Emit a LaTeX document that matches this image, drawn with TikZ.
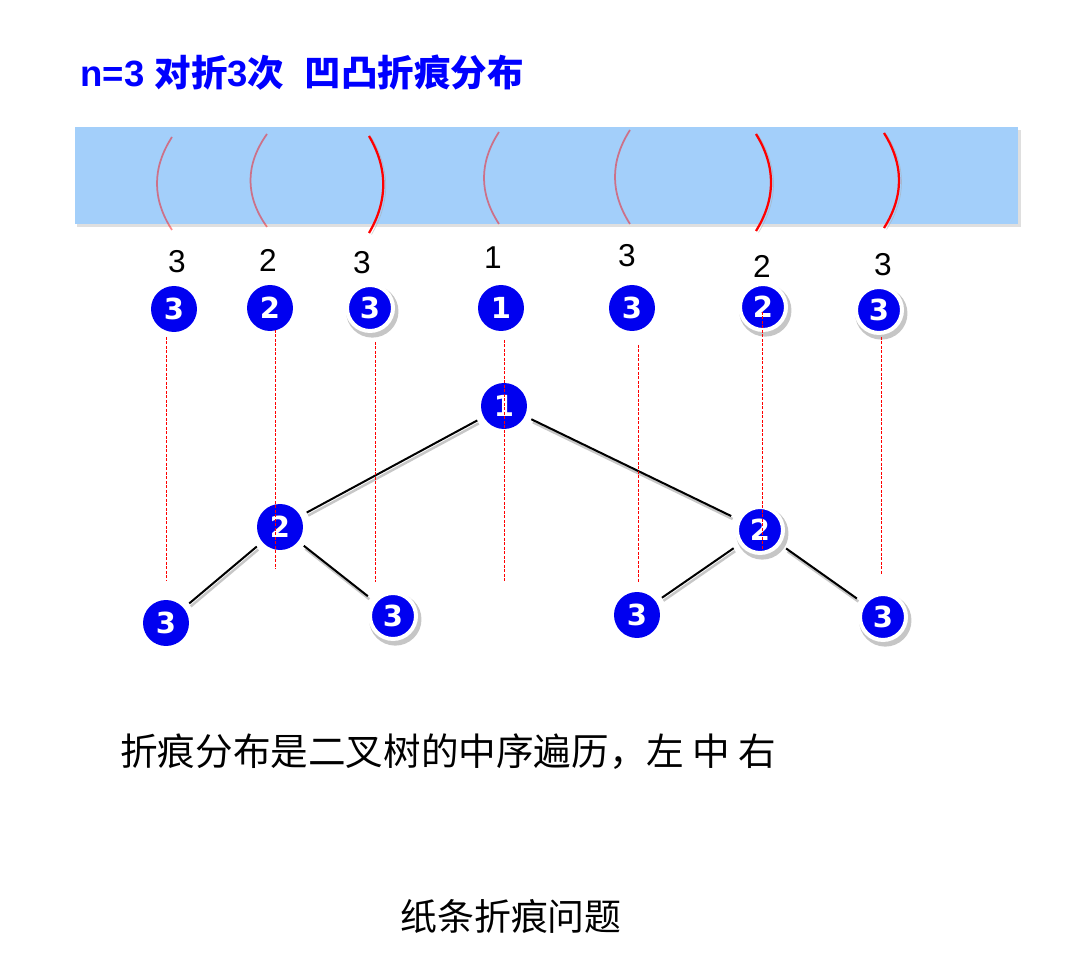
\documentclass[tikz,border=0pt]{standalone}
\usepackage{fontspec}
\setmainfont{Liberation Sans}
\newfontfamily\cjk{Noto Sans CJK SC}
\newfontfamily\dejavu{DejaVu Sans}
\usetikzlibrary{shadows}
\definecolor{titleblue}{RGB}{0,0,255}
\definecolor{nodeblue}{RGB}{0,0,240}
\definecolor{paper}{RGB}{163,207,250}

\tikzset{
  ball/.style={circle,fill=nodeblue,minimum size=0.92cm,inner sep=0pt,text=white,
    font=\dejavu\bfseries\fontsize{16.5}{17}\selectfont},
  ringball/.style={ball,draw=white,line width=0.08cm,
    drop shadow={shadow xshift=0.04cm,shadow yshift=-0.06cm,shadow scale=1.14,opacity=0.45}},
  depth/.style={inner sep=0pt,font=\fontsize{18}{19}\selectfont},
  edge/.style={line width=0.04cm,shorten >=0.14cm,shorten <=0.14cm,
    preaction={draw=black!22,line width=0.05cm,transform canvas={shift={(0.03cm,-0.06cm)}}}},
  guide/.style={red,line width=0.02cm,dash pattern=on 0.06cm off 0.03cm},
  mountain/.style={red,line width=0.045cm,
    preaction={draw=black!35,opacity=0.5,transform canvas={shift={(0.05cm,-0.03cm)}}}},
  valley/.style={red,opacity=0.45,line width=0.035cm}
}

\begin{document}
\begin{tikzpicture}[x=0.02cm,y=-0.02cm]
\useasboundingbox (0,0) rectangle (1080,962);
\node[anchor=west,inner sep=0pt,text=titleblue,font=\bfseries\fontsize{20.8}{22}\selectfont] (title) at (80,73) {n=3 {\cjk 对折}3{\cjk 次}\ \ {\cjk 凹凸折痕分布}};

% paper strip and its creases
\fill[paper,drop shadow={shadow xshift=0.05cm,shadow yshift=-0.07cm,opacity=0.25}] (75,127) rectangle (1018,224);
\foreach \x/\t/\b/\k/\s in {172/137/230/-20/valley,267/134/227/-22/valley,369/136/233/19/mountain,499/132/224/-20/valley,630/130/224/-20/valley,756/134/231/20/mountain,884/133/228/20/mountain}
  \draw[\s] (\x,\t) .. controls ({\x+\k},{\t+(\b-\t)/3}) and ({\x+\k},{\b-(\b-\t)/3}) .. (\x,\b);

% depth of each crease
\node[depth] (n1) at (177,262) {3};
\node[depth] (n2) at (268,260) {2};
\node[depth] (n3) at (362,263) {3};
\node[depth] (n4) at (493,258) {1};
\node[depth] (n5) at (627,256) {3};
\node[depth] (n6) at (762,266) {2};
\node[depth] (n7) at (883,265) {3};

\node[ball] (c1) at (174,309) {3};
\node[ball] (c2) at (270,308) {2};
\node[ringball] (c3) at (370,308) {3};
\node[ball] (c4) at (501,308) {1};
\node[ball] (c5) at (632,308) {3};
\node[ringball] (c6) at (763,307) {2};
\node[ringball] (c7) at (879,310) {3};

% the tree
\node[ball] (root) at (504,406) {1};
\node[ball] (l2) at (280,527) {2};
\node[ringball] (r2) at (760,530) {2};
\node[ball] (ll3) at (166,623) {3};
\node[ringball] (lr3) at (393,616) {3};
\node[ball] (rl3) at (637,615) {3};
\node[ringball] (rr3) at (883,617) {3};
\draw[edge] (root) -- (l2);
\draw[edge] (root) -- (r2);
\draw[edge] (l2) -- (ll3);
\draw[edge] (l2) -- (lr3);
\draw[edge] (r2) -- (rl3);
\draw[edge] (r2) -- (rr3);

\foreach \i/\x/\a/\b in {1/166/337/580,2/275/330/569,3/375/342/582,4/504/340/581,5/638/345/583,6/762/312/550,7/881/337/575}{
  \coordinate (u\i) at (\x,\a);
  \coordinate (d\i) at (\x,\b);
  \draw[guide] (u\i) -- (d\i);
}

\node[anchor=west,inner sep=0pt,font=\cjk\fontsize{21.4}{24}\selectfont] (rule) at (120,752) {折痕分布是二叉树的中序遍历，左 中 右};
\node[inner sep=0pt,font=\cjk\fontsize{21}{24}\selectfont] (caption) at (511,916) {纸条折痕问题};
\end{tikzpicture}
\end{document}
